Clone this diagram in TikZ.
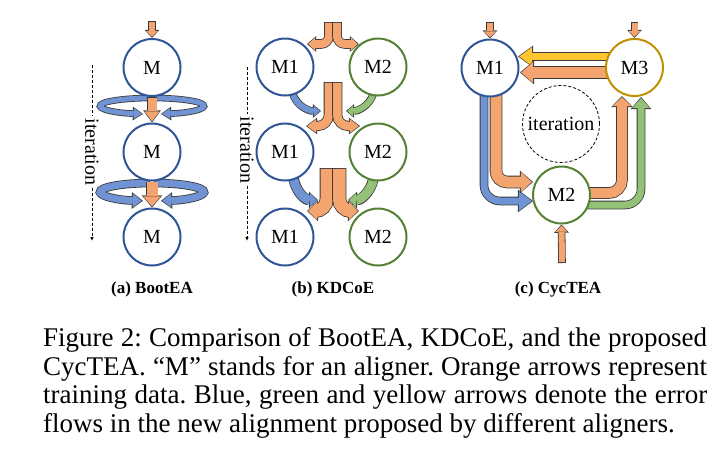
\documentclass[tikz,border=0pt]{standalone}
\usepackage{fontspec}
\setmainfont{Liberation Serif}
\usetikzlibrary{arrows.meta}
\definecolor{cblue}{HTML}{2F5597}
\definecolor{cgreen}{HTML}{548235}
\definecolor{cgold}{HTML}{BF9000}
\definecolor{forange}{HTML}{F4A46E}
\definecolor{fblue}{HTML}{6F93D3}
\definecolor{fgreen}{HTML}{92C177}
\definecolor{fyellow}{HTML}{FFC632}
\definecolor{aline}{HTML}{3A3A3A}
\frenchspacing
\tikzset{
  aligner/.style={circle, draw=#1, line width=2pt, fill=white, minimum size=57pt, inner sep=0pt, font=\fontsize{20}{20}\selectfont},
  sublabel/.style={font=\fontsize{17}{17}\selectfont\bfseries, inner sep=0pt},
  itertext/.style={font=\fontsize{20}{20}\selectfont, inner sep=2pt},
  dashline/.style={line width=0.8pt, dash pattern=on 3pt off 2pt},
  capline/.style={font=\fontsize{27}{29}\selectfont, inner sep=0pt, anchor=base west},
}
% #1 fill colour, #2 shaft width, #3 head length, #4 head width, #5 options, #6 path
\newcommand\blockarrow[6]{%
  \pgfmathsetlengthmacro\baW{#2+1.6pt}%
  \pgfmathsetlengthmacro\baL{#3+2.2pt}%
  \pgfmathsetlengthmacro\baH{#4+2.8pt}%
  \draw[draw=aline, line width=\baW, -{Triangle[length=\baL,width=\baH,line width=0pt]}, #5] #6;%
  \draw[draw=#1, line width=#2, shorten <=0.8pt, shorten >=1.2pt, -{Triangle[length=#3,width=#4,line width=0pt]}, #5] #6;%
}
\begin{document}
\begin{tikzpicture}[x=1pt,y=-1pt]
\useasboundingbox (0,0) rectangle (720,466);

% ---------------- (a) BootEA ----------------
\coordinate (a0) at (152,21);
\coordinate (e1) at (152,106);
\coordinate (e2) at (152,192);
\path (e1) ++(268:52 and 8) coordinate (l1a);
\path (e1) ++(272:52 and 8) coordinate (l1b);
\path (e2) ++(268:52 and 9) coordinate (l2a);
\path (e2) ++(272:52 and 9) coordinate (l2b);
\blockarrow{fblue}{5pt}{8pt}{11pt}{}{(l1a) arc[start angle=268,end angle=100,x radius=52,y radius=8]}
\blockarrow{fblue}{5pt}{8pt}{11pt}{}{(l1b) arc[start angle=272,end angle=440,x radius=52,y radius=8]}
\blockarrow{fblue}{7pt}{9pt}{14pt}{}{(l2a) arc[start angle=268,end angle=100,x radius=52,y radius=9]}
\blockarrow{fblue}{7pt}{9pt}{14pt}{}{(l2b) arc[start angle=272,end angle=440,x radius=52,y radius=9]}

\node[aligner=cblue] (a1) at (152,67.5) {M};
\node[aligner=cblue] (a2) at (152,152) {M};
\node[aligner=cblue] (a3) at (152,237) {M};
\blockarrow{forange}{6pt}{6pt}{12pt}{}{(a0) -- (a1.north)}
\blockarrow{forange}{9pt}{10pt}{15pt}{}{(a1.south) -- (a2.north)}
\blockarrow{forange}{11pt}{10pt}{18pt}{}{(a2.south) -- (a3.north)}

\coordinate (ad0) at (92,65);
\coordinate (ad1) at (92,241);
\node[itertext, rotate=-90] (ait) at (92,152) {iteration};
\draw[dashline] (ad0) -- (ait);
\draw[dashline, -{Latex[length=4pt,width=3.5pt]}] (ait) -- (ad1);
\node[sublabel] (alab) at (152,289) {(a) BootEA};

% ---------------- (b) KDCoE ----------------
\coordinate (bs1) at (329,22);   \coordinate (bs1t) at (307,44);
\coordinate (bs2) at (337,22);   \coordinate (bs2t) at (359,44);
\coordinate (bm1) at (328.75,82); \coordinate (bm1t) at (306,126);
\coordinate (bm2) at (337.25,82); \coordinate (bm2t) at (360,126);
\coordinate (bn1) at (326.75,168); \coordinate (bn1t) at (307,211);
\coordinate (bn2) at (339.25,168); \coordinate (bn2t) at (359,211);
\coordinate (bb1s) at (292,88);  \coordinate (bb1t) at (321,111);
\coordinate (bg1s) at (374,88);  \coordinate (bg1t) at (346,111);
\coordinate (bb2s) at (293,173); \coordinate (bb2t) at (318,200);
\coordinate (bg2s) at (374,173); \coordinate (bg2t) at (348,200);

\blockarrow{forange}{8pt}{7pt}{13pt}{rounded corners=8pt}{(bs1) |- (bs1t)}
\blockarrow{forange}{8pt}{7pt}{13pt}{rounded corners=8pt}{(bs2) |- (bs2t)}
\blockarrow{forange}{8.5pt}{9pt}{14pt}{rounded corners=11pt}{(bm1) |- (bm1t)}
\blockarrow{forange}{8.5pt}{9pt}{14pt}{rounded corners=11pt}{(bm2) |- (bm2t)}
\blockarrow{forange}{12.5pt}{9pt}{18pt}{rounded corners=12pt}{(bn1) |- (bn1t)}
\blockarrow{forange}{12.5pt}{9pt}{18pt}{rounded corners=12pt}{(bn2) |- (bn2t)}
\blockarrow{fblue}{6pt}{6pt}{11pt}{}{(bb1s) to[out=-90,in=180] (bb1t)}
\blockarrow{fgreen}{6pt}{6pt}{11pt}{}{(bg1s) to[out=-90,in=0] (bg1t)}
\blockarrow{fblue}{9pt}{7pt}{14pt}{}{(bb2s) to[out=-90,in=180] (bb2t)}
\blockarrow{fgreen}{9pt}{7pt}{14pt}{}{(bg2s) to[out=-90,in=0] (bg2t)}

\node[aligner=cblue]  (b11) at (285,67) {M1};
\node[aligner=cgreen] (b12) at (378,67) {M2};
\node[aligner=cblue]  (b21) at (285,152) {M1};
\node[aligner=cgreen] (b22) at (378,152) {M2};
\node[aligner=cblue]  (b31) at (285,237) {M1};
\node[aligner=cgreen] (b32) at (378,237) {M2};

\coordinate (bd0) at (247,67);
\coordinate (bd1) at (247,241);
\node[itertext, rotate=-90] (bit) at (247,150) {iteration};
\draw[dashline] (bd0) -- (bit);
\draw[dashline, -{Latex[length=4pt,width=3.5pt]}] (bit) -- (bd1);
\node[sublabel] (blab) at (333,289) {(b) KDCoE};

% ---------------- (c) CycTEA ----------------
\coordinate (ct1) at (490,22);
\coordinate (ct3) at (634.5,22);
\coordinate (ct2) at (562,263);
\coordinate (cy0) at (612,56.5);  \coordinate (cy1) at (518,56.5);
\coordinate (cz0) at (612,72.5);  \coordinate (cz1) at (520,72.5);
\coordinate (cb0) at (484,88);    \coordinate (cb1) at (533,201);
\coordinate (co0) at (496,88);    \coordinate (co1) at (533,182);
\coordinate (cq0) at (580,193);   \coordinate (cq1) at (622,96);
\coordinate (cg0) at (580,205);   \coordinate (cg1) at (641,97);

\blockarrow{fyellow}{7pt}{13pt}{19pt}{}{(cy0) -- (cy1)}
\blockarrow{forange}{11pt}{12pt}{21pt}{}{(cz0) -- (cz1)}
\blockarrow{fblue}{7pt}{13pt}{20pt}{rounded corners=16pt}{(cb0) |- (cb1)}
\blockarrow{forange}{11pt}{11pt}{20pt}{rounded corners=11pt}{(co0) |- (co1)}
\blockarrow{fgreen}{7pt}{10pt}{18pt}{rounded corners=16pt}{(cg0) -| (cg1)}
\blockarrow{forange}{10pt}{9pt}{19pt}{rounded corners=13pt}{(cq0) -| (cq1)}

\node[aligner=cblue]  (c1) at (490,68) {M1};
\node[aligner=cgold]  (c3) at (634.5,67.5) {M3};
\node[aligner=cgreen] (c2) at (561.5,195) {M2};
\blockarrow{forange}{6pt}{6pt}{12pt}{}{(ct1) -- (c1.north)}
\blockarrow{forange}{6pt}{6pt}{12pt}{}{(ct3) -- (c3.north)}
\blockarrow{forange}{6pt}{6pt}{12pt}{}{(ct2) -- (c2.south)}

\node[circle, draw, dashline, minimum size=77pt, inner sep=0pt, font=\fontsize{20}{20}\selectfont] (cit) at (561,124) {iteration};
\node[sublabel] (clab) at (558,289) {(c) CycTEA};

% ---------------- caption ----------------
\node[capline] (cap1) at (43,346.5) {\makebox[664pt][s]{Figure 2: Comparison of BootEA, KDCoE, and the proposed}};
\node[capline] (cap2) at (43,375) {\makebox[664pt][s]{CycTEA. “M” stands for an aligner. Orange arrows represent}};
\node[capline] (cap3) at (43,403.5) {\makebox[664pt][s]{training data. Blue, green and yellow arrows denote the error}};
\node[capline] (cap4) at (43,432) {flows in the new alignment proposed by different aligners.};
\end{tikzpicture}
\end{document}
